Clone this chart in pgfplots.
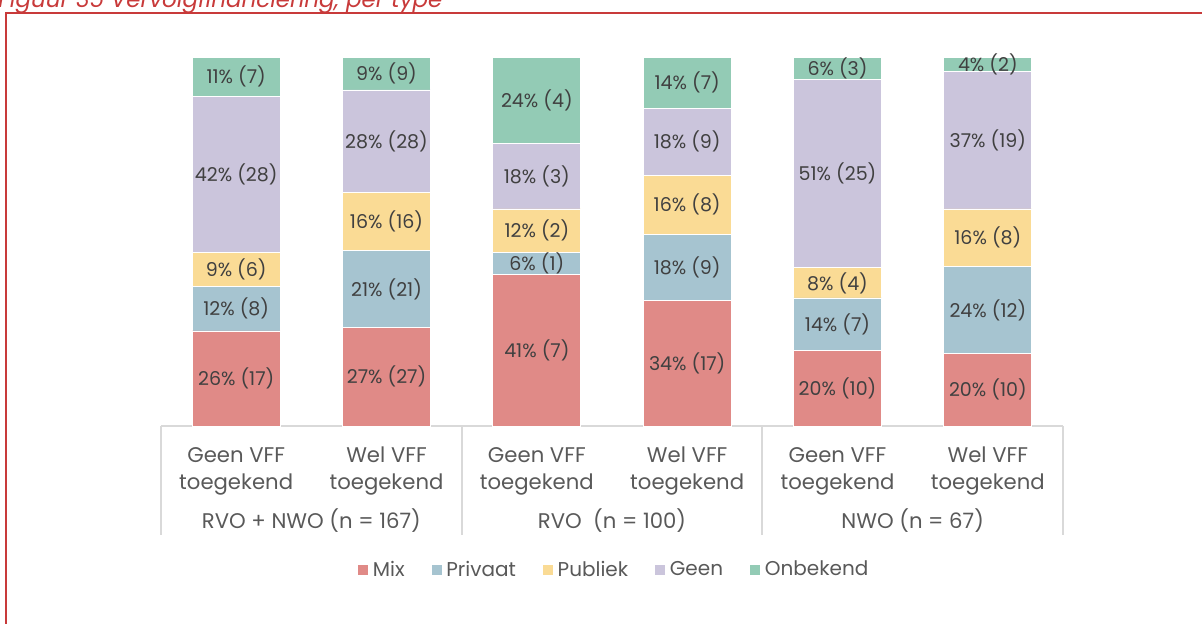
\documentclass[border=0pt]{standalone}
\usepackage{pgfplots}
\pgfplotsset{compat=1.18}
\usepackage{fontspec}
\setmainfont{Poppins}

\definecolor{cmix}{HTML}{E08A87}
\definecolor{cpriv}{HTML}{A6C4D0}
\definecolor{cpub}{HTML}{FADB95}
\definecolor{cgeen}{HTML}{CBC5DC}
\definecolor{conb}{HTML}{93CBB5}
\definecolor{txt}{HTML}{404040}
\definecolor{lbl}{HTML}{595959}
\definecolor{cred}{HTML}{C83A3A}
\definecolor{sep}{HTML}{D9D9D9}
\tikzset{lab/.style={anchor=base, text=lbl, font=\fontsize{10.6}{12}\selectfont, inner sep=0pt}}

\begin{document}
\begin{tikzpicture}
\useasboundingbox (0,0) rectangle (601pt,-311.5pt);
% frame and (cut off) caption
\draw[cred, line width=1pt] (3pt,-320pt) -- (3pt,-6.5pt) -- (610pt,-6.5pt);
\node[anchor=base west, inner sep=0pt, text=cred, font=\fontsize{11.5}{13}\selectfont\itshape]
  at (-1pt,-3.5pt) {Figuur 35 Vervolgfinanciering, per type};

\begin{axis}[at={(80.5pt,-213pt)}, anchor=south west,
    scale only axis, width=451pt, height=184.5pt,
    ybar stacked, bar width=44pt,
    xmin=-0.5, xmax=5.5, ymin=0, ymax=100,
    axis line style={draw=none}, xtick=\empty, ytick=\empty,
    clip=false,
    /pgf/number format/assume math mode=true,
    every axis plot/.append style={draw=white, line width=0.4pt},
    visualization depends on={value \thisrow{pct} \as \pct},
    visualization depends on={value \thisrow{n} \as \cnt},
    nodes near coords={\pct\%~(\cnt)},
    every node near coord/.append style={anchor=center, text=txt,
      font=\fontsize{9.5}{11}\selectfont},
    legend columns=5,
    legend style={at={(0.503,-0.39)}, anchor=center, draw=none,
      font=\fontsize{10}{12}\selectfont, text=lbl,
      /tikz/every even column/.append style={column sep=11pt}},
    legend image code/.code={\fill[#1] (0pt,-2.75pt) rectangle (5.5pt,2.75pt);},
  ]
\addplot[fill=cmix] table {
x y pct n
0 25.76 26 17
1 26.73 27 27
2 41.18 41 7
3 34.00 34 17
4 20.41 20 10
5 19.61 20 10
};
\addplot[fill=cpriv] table {
x y pct n
0 12.12 12 8
1 20.79 21 21
2 5.88 6 1
3 18.00 18 9
4 14.29 14 7
5 23.53 24 12
};
\addplot[fill=cpub] table {
x y pct n
0 9.09 9 6
1 15.84 16 16
2 11.76 12 2
3 16.00 16 8
4 8.16 8 4
5 15.69 16 8
};
\addplot[fill=cgeen] table {
x y pct n
0 42.42 42 28
1 27.72 28 28
2 17.65 18 3
3 18.00 18 9
4 51.02 51 25
5 37.25 37 19
};
\addplot[fill=conb] table {
x y pct n
0 10.61 11 7
1 8.91 9 9
2 23.53 24 4
3 14.00 14 7
4 6.12 6 3
5 3.92 4 2
};
\legend{Mix,Privaat,Publiek,Geen,Onbekend}

\draw[sep, line width=1pt] (axis cs:-0.5,0) -- (axis cs:5.5,0);
\pgfplotsinvokeforeach{-0.5,1.5,3.5,5.5}{
  \draw[sep, line width=1pt] (axis cs:#1,0) -- ([yshift=-54.5pt]axis cs:#1,0);
}
\pgfplotsinvokeforeach{0,2,4}{
  \node[lab] at ([yshift=-18pt]axis cs:#1,0) {Geen VFF};
  \node[lab] at ([yshift=-31.5pt]axis cs:#1,0) {toegekend};
}
\pgfplotsinvokeforeach{1,3,5}{
  \node[lab] at ([yshift=-18pt]axis cs:#1,0) {Wel VFF};
  \node[lab] at ([yshift=-31.5pt]axis cs:#1,0) {toegekend};
}
\node[lab] at ([yshift=-51pt]axis cs:0.5,0) {RVO + NWO (n = 167)};
\node[lab] at ([yshift=-51pt]axis cs:2.5,0) {RVO~ (n = 100)};
\node[lab] at ([yshift=-51pt]axis cs:4.5,0) {NWO (n = 67)};
\end{axis}
\end{tikzpicture}
\end{document}
